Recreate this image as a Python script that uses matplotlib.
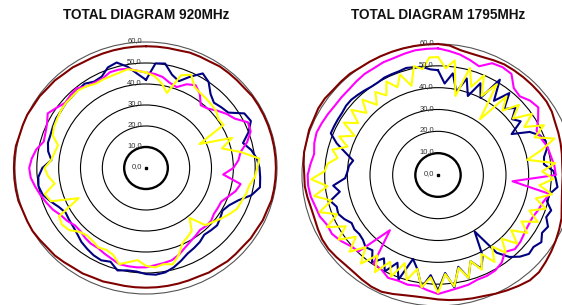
import matplotlib.pyplot as plt
import numpy as np
from matplotlib.patches import Circle
from matplotlib.transforms import offset_copy

plt.rcParams['font.family'] = ['Liberation Sans', 'DejaVu Sans']

# sample angles, degrees, clockwise from top
angles_5 = np.arange(0, 360, 5)
angles_4 = np.arange(0, 360, 4)

ring_values = [0, 10, 20, 30, 40, 50, 60]
ring_labels = ["0,0", "10,0", "20,0", "30,0", "40,0", "50,0", "60,0"]

# --- 920 MHz (5 deg steps) ---
navy_920 = [42, 50, 50.5, 46, 44, 48, 52, 50, 46, 44, 45, 46,
            52, 53, 50, 46, 49, 51, 52, 52.5, 53, 50, 45, 42,
            40.5, 41.5, 42.5, 42, 41.5, 43, 44, 45, 47, 49, 50.5, 51,
            50.5, 49.5, 49.5, 50.5, 47.5, 48.5, 48, 47, 46, 44.5, 43.5, 43,
            42.5, 44, 46.5, 49, 50, 49.5, 47.5, 43.5, 45.5, 46.5, 46.5, 47,
            47.5, 47.5, 48, 48, 48.5, 49, 47.5, 48, 51, 52, 49, 45]
magenta_920 = [45.5, 45, 44, 42, 41, 44, 45.5, 43, 39, 40, 42.5, 45,
               47, 51.5, 51, 48, 44, 42.5, 40, 35.5, 44, 42.5, 40, 38,
               38, 38, 39, 39, 38.5, 39.5, 40.5, 42, 44, 45.5, 46, 46.5,
               47.3, 47.5, 47.5, 47.4, 46, 45, 44, 44, 43.4, 42.5, 42.5, 44,
               45, 47, 48.5, 50, 51.5, 53, 53.5, 52.5, 51, 48.5, 49, 50,
               52, 50, 48.3, 49, 49.5, 47.5, 47, 47, 48.5, 48.5, 48, 46.5]
yellow_920 = [45.5, 44, 41, 37, 47, 49, 44.5, 43.5, 43, 42.5, 42, 40.5,
              41, 27, 42, 36, 44, 52, 51, 50, 48, 47.5, 46.5, 46,
              44, 42, 40, 38.5, 31, 36.5, 38, 39.5, 44, 47.5, 46.5, 47.5,
              46.6, 44, 45.5, 47.4, 44, 43, 43.7, 42.5, 42, 43, 46, 47,
              46, 34, 46.3, 48, 42.5, 45, 46.5, 43.6, 42.5, 41.7, 45.5, 46.5,
              47, 47.6, 48, 48, 48.3, 47.5, 46.3, 46.5, 46.6, 47, 47.8, 46.5]
brown_920 = [58, 58, 58, 58, 58.5, 58.5, 58.5, 59, 59, 59, 59, 59.5,
             59.5, 59.5, 59.5, 59.5, 59.5, 59.5, 59.5, 59.5, 59.5, 59.5, 59, 59,
             58.5, 58.5, 58, 58, 58, 57.5, 57.5, 57, 57, 57, 57, 57,
             57, 57, 57, 57, 57.5, 57.5, 58, 58, 58.5, 59, 59, 59.5,
             60, 60, 60, 60.5, 60.5, 60.5, 60.5, 60.5, 60.5, 60, 60, 60,
             59.5, 59.5, 59, 59, 58.5, 58.5, 58, 58, 58, 58, 58, 58]

# --- 1795 MHz (navy / yellow 4 deg steps, magenta / brown 5 deg steps) ---
navy_1795 = [48, 42, 47, 39, 46, 38.5, 46, 40, 51.5, 42, 49, 42,
             46, 41.5, 44, 37.5, 45, 48.5, 50, 49.5, 47.5, 47, 51, 52,
             53, 50, 49.5, 52.5, 51.5, 54, 53, 55, 53.5, 54, 52, 49,
             44, 30.5, 42, 47, 42, 49, 43, 52, 45, 53, 46, 52,
             44, 40, 51, 44, 50, 45, 49.5, 45, 46, 44.5, 44, 44.5,
             44, 46, 47.5, 47, 49, 44, 46.5, 41, 40, 39.5, 38, 42,
             47, 51, 51, 51, 51, 51.5, 51.5, 51, 50.5, 50, 50, 50.5,
             50.5, 50.5, 51, 50.5, 50, 48.5]
yellow_1795 = [54, 49, 53, 37, 51, 43, 50, 41, 49, 31.5, 47, 41,
               48, 42, 50, 44, 52, 46, 54, 47, 40, 52, 46, 51,
               45, 51, 44.5, 50, 43.5, 49, 42.5, 47.5, 41, 47, 40.5, 46.5,
               40.5, 47, 41, 47.5, 42, 49, 43.5, 51.5, 45.5, 54, 47, 52,
               44, 50, 43, 51, 45, 52.5, 45.5, 53, 46, 52.5, 46, 53,
               47, 54.5, 48, 55, 48.5, 55.5, 49, 56, 50, 49, 45, 48,
               42, 47, 41, 48, 42.5, 48.5, 42.5, 48, 42, 47, 43, 48.5,
               44, 49, 42.5, 51, 49, 54]
magenta_1795 = [58, 57, 56, 54.5, 53, 56.5, 57, 56.5, 52, 51, 53, 54,
                51, 48, 48.5, 50, 50.5, 51.5, 52, 33, 50, 48, 47, 46,
                46, 46.5, 47.5, 48, 46, 49, 50.5, 51, 51, 52, 52.5, 53.3,
                54.5, 53, 51.5, 52, 51.5, 52, 50, 49.5, 33, 49.5, 50.5, 52.5,
                54, 54, 55.5, 56, 57, 57.5, 57.5, 56.5, 55.5, 56.5, 57, 56.5,
                56, 55.5, 55.5, 55.5, 56, 56.5, 56.5, 57, 57, 57.5, 58, 58]
brown_1795 = [60, 59.5, 58, 57.5, 57.5, 58, 58.5, 58.5, 58.5, 58.5, 58.5, 58.5,
              58, 57, 56.5, 56, 55.5, 55, 55, 55, 55.5, 56.5, 58, 59,
              60, 61, 62, 63, 63, 62, 61, 60, 59, 58.5, 58, 57.5,
              57, 56.5, 56.5, 57, 58, 59, 59, 58.5, 58, 58, 58.5, 59,
              59, 58.5, 58, 58, 58.5, 59, 59, 59.5, 60, 60, 60.5, 60.5,
              61, 61, 60.5, 60.5, 60.5, 60, 60, 60, 60, 60, 60, 60]

navy_col, magenta_col, yellow_col, brown_col = '#000080', '#FF00FF', '#FFFF00', '#800000'


def to_xy(angles, values):
    # radar chart: angle clockwise from the top, closed loop
    th = np.deg2rad(np.append(angles, angles[0]))
    r = np.append(values, values[0])
    return r * np.sin(th), r * np.cos(th)


def radar(fig, cx, cy, rx60, ry60, title, series):
    lim = 66
    px = rx60 * lim / 60
    py = ry60 * lim / 60
    ax = fig.add_axes([(cx - px) / 562, (305 - cy - py) / 305, 2 * px / 562, 2 * py / 305])
    ax.set_xlim(-lim, lim)
    ax.set_ylim(-lim, lim)
    ax.set_aspect('auto')
    ax.axis('off')

    for r in ring_values[1:]:
        lw = 1.7 if r == 10 else 0.8
        col = '#555555' if r == 60 else 'black'
        ax.add_patch(Circle((0, 0), r, fill=False, edgecolor=col, linewidth=lw))

    for angles, vals, col in series:
        x, y = to_xy(angles, vals)
        ax.plot(x, y, color=col, linewidth=1.5, clip_on=False)

    ax.plot([0], [0], marker='s', color='black', markersize=1.6)
    tr = offset_copy(ax.transData, fig=fig, x=-3, y=1, units='points')
    for r, lab in zip(ring_values, ring_labels):
        ax.text(0, r, lab, transform=tr, ha='right', va='center',
                fontsize=5.5, color='#333333')

    fig.text(cx / 562, 1 - 15 / 305, title, ha='center', va='center',
             fontsize=9.8, fontweight='bold', color='#111111')
    return ax


fig = plt.figure(figsize=(5.62, 3.05), dpi=100)

radar(fig, 146, 168, 131, 126, "TOTAL DIAGRAM 920MHz",
      [(angles_5, brown_920, brown_col),
       (angles_5, navy_920, navy_col),
       (angles_5, magenta_920, magenta_col),
       (angles_5, yellow_920, yellow_col)])

radar(fig, 438, 175, 136, 131, "TOTAL DIAGRAM 1795MHz",
      [(angles_5, brown_1795, brown_col),
       (angles_4, navy_1795, navy_col),
       (angles_5, magenta_1795, magenta_col),
       (angles_4, yellow_1795, yellow_col)])

fig.savefig('out.png', dpi=100)
